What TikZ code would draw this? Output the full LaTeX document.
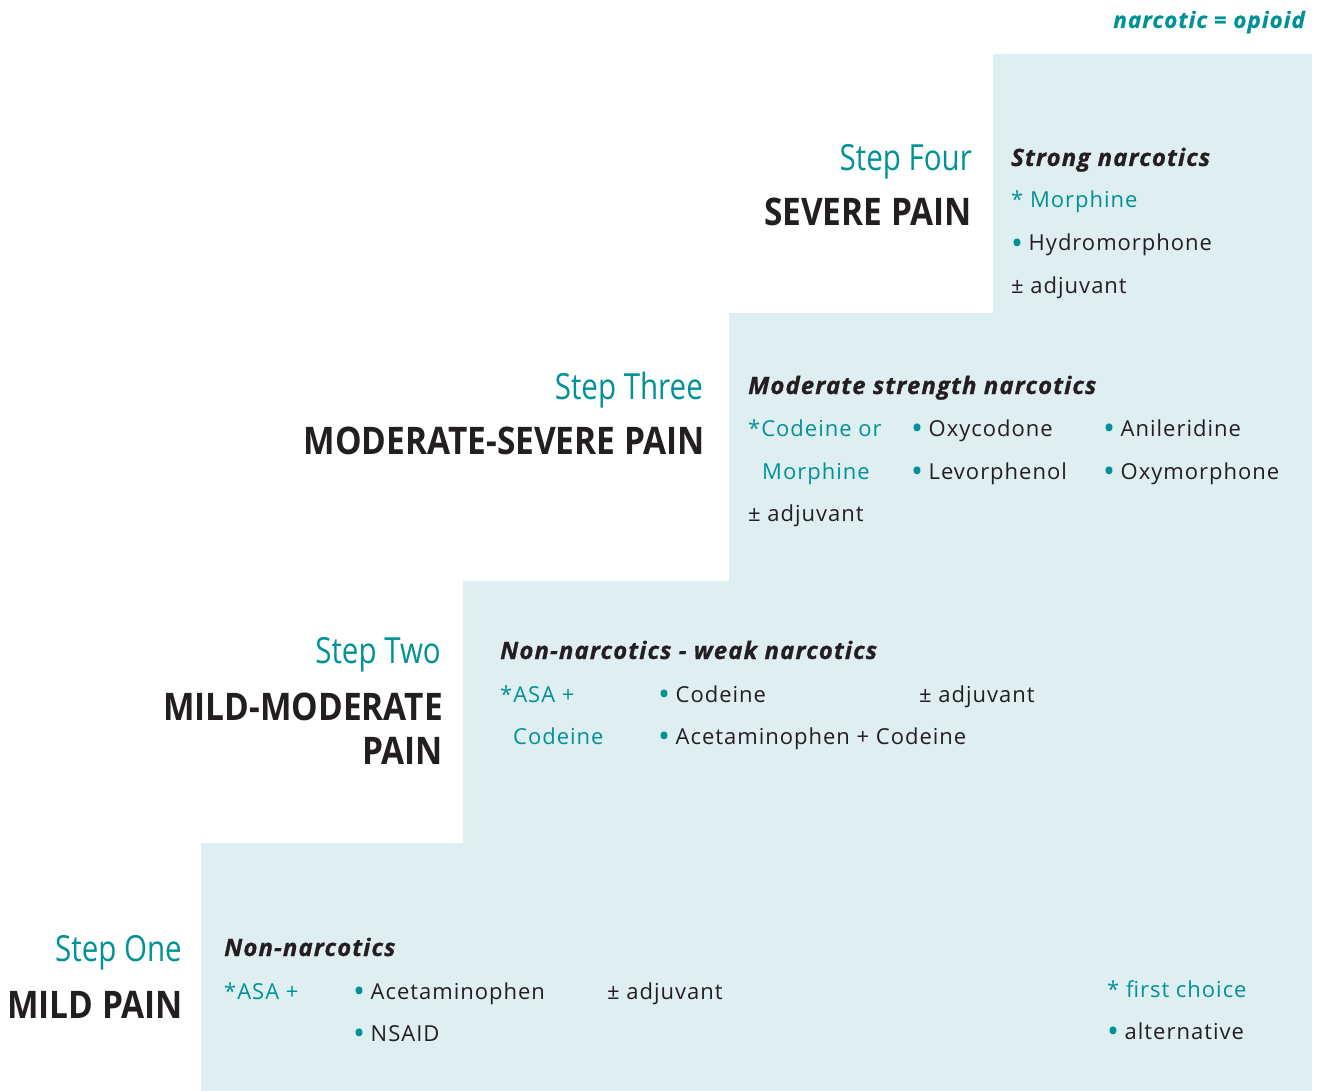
\documentclass[tikz,border=0pt]{standalone}
\usepackage{fontspec}
\setmainfont{Open Sans}[LetterSpace=4.5]
\newfontfamily\stepfont[FakeStretch=0.82]{Open Sans}
\newfontfamily\painfont[FakeStretch=0.88]{Open Sans}
\newfontfamily\hdrfont[LetterSpace=4.5,FakeBold=0.8]{Open Sans}
\definecolor{tealc}{RGB}{0,146,150}
\definecolor{ink}{RGB}{35,31,32}
\definecolor{stair}{RGB}{223,238,241}
\tikzset{
  body/.style={anchor=base west, inner sep=0pt, text=ink, font=\fontsize{22}{26}\selectfont},
  hdr/.style={body, font=\hdrfont\fontsize{24}{28}\selectfont\bfseries\itshape},
  choice/.style={body, text=tealc},
  steplbl/.style={anchor=base east, inner sep=0pt, text=tealc, font=\stepfont\fontsize{36}{40}\selectfont},
  painlbl/.style={anchor=base east, inner sep=0pt, text=ink, font=\painfont\bfseries\fontsize{38}{42}\selectfont},
}
\newcommand{\bul}{{\color{tealc}\raisebox{-0.17em}{\scalebox{1.45}{\textbullet}}}\hspace{0.25em}}
\begin{document}
\begin{tikzpicture}[x=1pt,y=-1pt]
\useasboundingbox (0,0) rectangle (1327,1091);
% staircase
\fill[stair] (201,1091) -- (201,843) -- (463,843) -- (463,581) -- (729,581) -- (729,313)
  -- (993,313) -- (993,54) -- (1312,54) -- (1312,1091) -- cycle;
% legend top
\node[anchor=base east, inner sep=0pt, text=tealc, font=\hdrfont\fontsize{22.5}{26}\selectfont\bfseries\itshape] (legend) at (1305,28) {narcotic = opioid};
% Step four
\node[steplbl] (s4) at (972,171) {Step Four};
\node[painlbl] (p4) at (972,226) {SEVERE PAIN};
\node[hdr] (h4) at (1011,166) {Strong narcotics};
\node[choice] (c4) at (1011,208) {* Morphine};
\node[body] (a4) at (1011,251) {\bul Hydromorphone};
\node[body] (j4) at (1011,293) {\textpm\ adjuvant};
% Step three
\node[steplbl] (s3) at (703,399) {Step Three};
\node[painlbl] (p3) at (705,454) {MODERATE-SEVERE PAIN};
\node[hdr] (h3) at (748,394) {Moderate strength narcotics};
\node[choice] (c3a) at (748,436) {*Codeine or};
\node[choice] (c3b) at (762,479) {Morphine};
\node[body] (a3a) at (911,436) {\bul Oxycodone};
\node[body] (a3b) at (911,479) {\bul Levorphenol};
\node[body] (a3c) at (1103,436) {\bul Anileridine};
\node[body] (a3d) at (1103,479) {\bul Oxymorphone};
\node[body] (j3) at (748,521) {\textpm\ adjuvant};
% Step two
\node[steplbl] (s2) at (441,663) {Step Two};
\node[painlbl] (p2a) at (443,720) {MILD-MODERATE};
\node[painlbl] (p2b) at (443,764) {PAIN};
\node[hdr] (h2) at (500,659) {Non-narcotics - weak narcotics};
\node[choice] (c2a) at (500,702) {*ASA +};
\node[choice] (c2b) at (513,744) {Codeine};
\node[body] (a2a) at (658,702) {\bul Codeine};
\node[body] (a2b) at (658,744) {\bul Acetaminophen + Codeine};
\node[body] (j2) at (919,702) {\textpm\ adjuvant};
% Step one
\node[steplbl] (s1) at (182,961) {Step One};
\node[painlbl] (p1) at (183,1018) {MILD PAIN};
\node[hdr] (h1) at (224,956) {Non-narcotics};
\node[choice] (c1) at (224,999) {*ASA +};
\node[body] (a1a) at (353,999) {\bul Acetaminophen};
\node[body] (a1b) at (353,1041) {\bul NSAID};
\node[body] (j1) at (607,999) {\textpm\ adjuvant};
% key
\node[choice] (k1) at (1107,997) {* first choice};
\node[body] (k2) at (1107,1039) {\bul alternative};
\end{tikzpicture}
\end{document}
